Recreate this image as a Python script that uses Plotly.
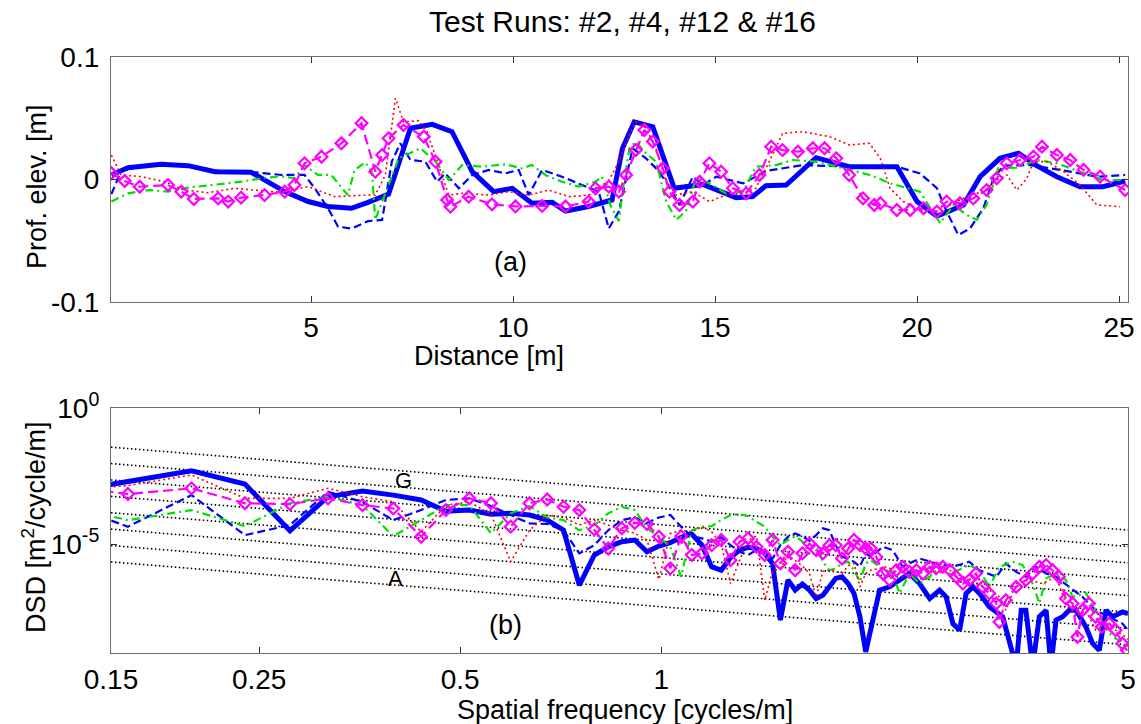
import numpy as np
import plotly.graph_objects as go

# ---------------- (a) profiles: distance [m] / elevation [m] ----------------
dist_ref = [0.06, 0.47, 1.29, 1.96, 2.62, 3.52, 4.35, 4.93, 5.42, 6.0, 6.41, 6.92, 7.46, 8.0, 8.49, 8.99,
            9.52, 9.98, 10.47, 10.97, 11.3, 11.87, 12.45, 12.71, 13.0, 13.46, 13.99, 14.7, 15.52, 15.93,
            16.26, 16.76, 17.5, 18.32, 18.98, 19.5, 20.0, 20.49, 21.15, 21.56, 22.05, 22.51, 22.96, 23.46,
            24.03, 24.6, 25.15]
elev_ref = [0.0037, 0.0096, 0.0124, 0.0113, 0.0064, 0.0059, -0.0099, -0.018, -0.022, -0.0235, -0.0186,
            -0.012, 0.0418, 0.045, 0.039, 0.0064, -0.0099, -0.0072, -0.0194, -0.0186, -0.0257, -0.022,
            -0.0167, 0.0255, 0.047, 0.043, -0.0072, -0.004, -0.0148, -0.014, -0.005, -0.0045, 0.0178,
            0.0105, 0.0105, 0.0105, -0.018, -0.030, -0.0208, 0.0023, 0.0173, 0.0214, 0.0113, 0.0023,
            -0.0059, -0.0059, -0.0012]

dist_r2 = [0.06, 0.3, 0.8, 1.3, 2.0, 2.6, 3.0, 3.61, 4.27, 4.84, 5.09, 5.42, 5.67, 6.0, 6.41, 6.76, 7.0,
           7.21, 7.46, 7.83, 8.12, 8.32, 8.66, 8.99, 9.4, 9.81, 10.14, 10.39, 10.72, 11.21, 11.71, 12.12,
           12.37, 12.62, 12.96, 13.29, 13.54, 13.79, 14.12, 14.45, 14.7, 15.03, 15.69, 16.26, 17.17,
           18.32, 19.5, 20.07, 20.49, 20.73, 21.02, 21.31, 21.64, 21.89, 22.14, 22.8, 23.79, 24.45, 25.15]
elev_r2 = [-0.012, 0.007, 0.011, 0.0125, 0.0115, 0.0075, 0.006, 0.0059, 0.0037, 0.0037, -0.007, -0.0235,
           -0.0385, -0.040, -0.034, -0.033, 0.0146, 0.0295, 0.016, 0.0146, -0.0018, 0.005, -0.0072,
           0.0037, 0.0078, 0.005, 0.0078, -0.0127, 0.0078, 0.0023, -0.0045, -0.0099, -0.040, -0.026,
           0.0255, 0.0173, 0.0091, -0.0018, -0.0208, 0.0023, -0.0045, 0.0023, -0.0032, 0.0069, 0.0118,
           0.0105, 0.0105, 0.005, -0.007, -0.026, -0.0453, -0.040, -0.0235, 0.001, 0.0113, 0.0118, 0.0064,
           0.0023, 0.0037]

dist_r4 = [0.06, 0.47, 0.97, 1.46, 1.96, 2.45, 2.86, 3.27, 3.77, 4.26, 4.59, 4.84, 5.17, 5.5, 5.91, 6.08,
           6.34, 6.51, 6.59, 6.88, 7.17, 7.71, 8.08, 8.41, 8.74, 9.23, 9.81, 10.22, 10.47, 10.8, 11.21,
           11.63, 12.04, 12.2, 12.41, 12.62, 12.71, 12.88, 13.04, 13.29, 13.54, 13.79, 14.04, 14.28,
           14.53, 14.86, 15.27, 15.69, 16.01, 16.51, 16.92, 17.5, 18.16, 18.84, 19.33, 20.07, 20.57,
           20.9, 21.23, 21.48, 21.72, 22.01, 22.47, 22.96, 23.46, 24.12, 24.6, 25.15]
elev_r4 = [-0.018, -0.0113, -0.0086, -0.0099, -0.0067, -0.005, -0.0031, -0.0018, 0.001, 0.0027, 0.001,
           0.0118, 0.0037, 0.0037, -0.0127, 0.0078, 0.014, 0.0064, -0.033, -0.007, 0.0173, 0.0255,
           0.0146, -0.0004, 0.0118, 0.0105, 0.0124, 0.0091, 0.0118, 0.0037, -0.0018, -0.0058, -0.0018,
           0.0023, -0.021, -0.034, -0.0099, 0.0255, 0.0309, 0.0214, 0.0146, -0.018, -0.033, -0.0255,
           0.001, -0.0031, -0.0113, -0.0099, 0.0105, 0.0118, 0.0159, 0.0146, 0.0091, 0.0037, -0.0031,
           -0.0099, -0.0358, -0.0208, -0.0289, -0.033, -0.0208, 0.0091, 0.0096, 0.0159, 0.0132, 0.005,
           -0.0004, -0.0004]

dist_r12 = [0.06, 0.3, 0.8, 1.38, 1.87, 2.45, 3.1, 3.69, 4.26, 4.93, 5.59, 6.41, 6.59, 6.84, 7.09, 7.29,
            7.66, 7.87, 8.16, 8.41, 8.74, 9.4, 9.89, 10.39, 10.88, 11.38, 11.87, 12.29, 12.62, 12.88,
            13.04, 13.29, 13.54, 13.79, 14.04, 14.45, 14.86, 15.27, 15.69, 16.01, 16.34, 16.67, 17.17,
            17.83, 18.32, 18.82, 19.09, 19.33, 19.66, 20.07, 20.49, 20.9, 21.31, 21.64, 21.97, 22.22,
            22.47, 22.72, 22.88, 23.22, 23.63, 24.03, 24.45, 25.02]
elev_r12 = [0.02, 0.0037, 0.0023, -0.0018, -0.0086, -0.0108, -0.0072, -0.0086, -0.0105, -0.0058, -0.014,
            -0.0127, -0.0127, 0.0037, 0.0663, 0.047, 0.048, 0.039, 0.0118, -0.0127, -0.0113, -0.0127,
            -0.0099, -0.0127, -0.0086, -0.014, -0.0127, -0.0058, 0.0146, 0.0364, 0.047, 0.0418, 0.0255,
            -0.0018, -0.0127, -0.0099, -0.018, -0.0127, -0.0113, -0.0072, 0.0146, 0.0377, 0.039, 0.035,
            0.0282, 0.0296, 0.0173, -0.0072, -0.018, -0.0249, -0.0262, -0.0194, -0.0127, -0.0099,
            -0.0004, 0.0037, -0.0086, 0.001, 0.0146, 0.0146, 0.0064, -0.0045, -0.0208, -0.0222]

dist_r16 = [0.06, 0.39, 0.76, 1.46, 1.79, 2.1, 2.7, 2.95, 3.27, 3.85, 4.35, 4.59, 4.84, 5.26, 5.75, 6.25,
            6.59, 6.76, 6.92, 7.29, 7.79, 8.08, 8.37, 8.45, 8.9, 9.48, 10.06, 10.72, 11.3, 11.87, 12.04,
            12.37, 12.62, 12.8, 13.04, 13.25, 13.46, 13.71, 13.87, 14.12, 14.45, 14.62, 14.86, 15.15,
            15.44, 15.77, 16.1, 16.39, 16.67, 17.05, 17.42, 17.71, 18.0, 18.32, 18.66, 18.94, 19.09,
            19.5, 19.83, 20.16, 20.49, 20.73, 21.06, 21.39, 21.72, 21.97, 22.22, 22.55, 22.88, 23.09,
            23.46, 23.79, 24.12, 24.53, 25.15]
elev_r16 = [0.0051, -0.0012, -0.0059, -0.0045, -0.0099, -0.0159, -0.0154, -0.018, -0.0148, -0.0127,
            -0.0099, -0.0045, 0.0132, 0.0186, 0.0295, 0.046, 0.0064, 0.02, 0.0336, 0.0445, 0.035, 0.0146,
            -0.0167, -0.0222, -0.014, -0.0203, -0.022, -0.0216, -0.022, -0.018, -0.0072, -0.0058,
            -0.0099, 0.0037, 0.0241, 0.0404, 0.031, 0.0091, -0.0099, -0.0208, -0.018, -0.0018, 0.0132,
            0.0064, -0.0072, -0.0113, 0.0037, 0.0268, 0.024, 0.0227, 0.0255, 0.0255, 0.0173, 0.0037,
            -0.0154, -0.0208, -0.0194, -0.0249, -0.0249, -0.0235, -0.0262, -0.018, -0.0194, -0.0154,
            -0.0086, 0.001, 0.0132, 0.0159, 0.0186, 0.0268, 0.02, 0.0159, 0.0078, 0.0023, -0.0086]

# ---------------- (b) displacement spectral density ----------------
# common low-frequency grid [cycles/m]
freq_lo = [0.119, 0.159, 0.198, 0.238, 0.278, 0.317, 0.357, 0.397, 0.437, 0.476, 0.516, 0.556, 0.595,
           0.635, 0.675, 0.714, 0.754, 0.794, 0.833, 0.873, 0.913, 0.952, 0.992, 1.032, 1.071, 1.111,
           1.151, 1.190, 1.230, 1.270, 1.310, 1.349, 1.389, 1.429, 1.468, 1.508, 1.548, 1.587, 1.627,
           1.667, 1.706, 1.746, 1.786, 1.825, 1.865, 1.905, 1.944, 1.984, 2.024]

# log10 of DSD [m^2/cycle/m]
lg_ref_lo = [-3.22, -2.68, -2.31, -2.79, -4.51, -3.26, -3.05, -3.20, -3.38, -3.79, -3.75, -3.90, -3.87,
             -3.93, -4.12, -4.49, -6.51, -5.40, -5.10, -4.91, -4.85, -5.28, -5.07, -4.95, -4.75, -4.63,
             -5.04, -5.83, -5.96, -5.49, -5.22, -5.12, -5.16, -5.34, -5.71, -7.79, -6.32, -6.69, -6.47,
             -6.69, -7.00, -6.88, -6.57, -6.26, -6.20, -6.45, -6.81, -7.67, -8.96]
freq_ref_hi = [2.075, 2.123, 2.198, 2.274, 2.353, 2.437, 2.524, 2.611, 2.671, 2.734, 2.798, 2.861, 2.929,
               2.996, 3.099, 3.246, 3.40, 3.46, 3.516, 3.599, 3.683, 3.77, 3.833, 3.901, 3.992, 4.083,
               4.179, 4.325, 4.425, 4.528, 4.635, 4.742, 4.905, 5.0]
lg_ref_hi = [-7.67, -6.69, -6.57, -6.32, -6.08, -6.45, -7.00, -6.69, -6.94, -7.92, -8.16, -6.81, -6.57,
             -6.81, -7.30, -7.67, -9.5, -7.43, -7.43, -9.5, -7.67, -7.43, -9.5, -7.79, -7.67, -7.43, -7.43,
             -8.04, -8.65, -8.90, -7.43, -7.67, -7.49, -7.55]

lg_r2_lo = [-3.22, -4.36, -3.20, -4.67, -4.30, -3.08, -3.45, -4.12, -3.75, -3.38, -3.32, -3.60, -3.93,
            -4.24, -4.26, -4.49, -5.34, -5.04, -4.49, -4.12, -4.02, -4.22, -4.02, -3.93, -4.36, -4.71,
            -4.79, -4.91, -4.75, -5.04, -5.28, -5.40, -5.22, -5.34, -5.53, -5.04, -4.73, -4.61, -4.71,
            -4.88, -4.67, -4.42, -4.49, -5.04, -5.47, -5.53, -5.65, -5.83, -5.34]
freq_r2_hi = [2.06, 2.147, 2.222, 2.298, 2.437, 2.58, 2.734, 2.893, 2.996, 3.175, 3.282, 3.4, 3.516, 3.639,
              3.77, 3.901, 4.083, 4.274, 4.472, 4.687, 4.905, 5.0]
lg_r2_hi = [-5.47, -5.10, -5.22, -5.83, -5.53, -5.71, -5.83, -5.65, -5.96, -6.20, -5.71, -6.02, -6.20,
            -5.83, -6.08, -6.20, -6.57, -6.94, -7.43, -7.67, -7.92, -8.16]

lg_r4_lo = [-3.42, -4.12, -3.75, -4.34, -3.50, -3.26, -3.57, -4.71, -4.12, -3.57, -3.57, -4.60, -3.87,
            -3.60, -4.02, -4.12, -4.49, -4.30, -3.87, -3.63, -3.75, -4.42, -4.73, -5.10, -6.20, -4.49,
            -4.36, -4.34, -4.12, -3.93, -3.90, -3.97, -4.18, -4.36, -4.73, -5.04, -4.85, -4.71, -4.91,
            -5.22, -4.98, -5.65, -5.96, -5.89, -5.71, -5.65, -5.96, -6.38, -5.71]
freq_r4_hi = [2.06, 2.123, 2.222, 2.274, 2.353, 2.437, 2.524, 2.611, 2.706, 2.798, 2.893, 2.996, 3.099,
              3.21, 3.361, 3.476, 3.599, 3.683, 3.77, 3.901, 4.037, 4.13, 4.325, 4.528, 4.687, 4.905, 5.0]
lg_r4_hi = [-5.59, -5.83, -6.08, -6.81, -6.08, -6.45, -6.20, -5.83, -6.08, -5.93, -5.77, -5.96, -6.57,
            -5.83, -5.65, -5.77, -6.45, -7.18, -6.26, -6.08, -6.32, -6.94, -6.81, -7.67, -8.28, -8.65, -8.90]

lg_r12_lo = [-3.09, -2.85, -2.46, -3.32, -3.32, -2.95, -3.26, -3.45, -4.55, -3.57, -3.45, -3.90, -5.65,
             -4.49, -3.93, -4.02, -4.30, -4.12, -4.30, -4.49, -4.60, -4.85, -6.30, -4.61, -4.49, -4.55,
             -4.36, -4.55, -5.00, -6.45, -5.60, -4.85, -4.70, -7.06, -6.00, -5.90, -5.40, -5.59, -5.80,
             -6.08, -6.94, -6.00, -5.96, -6.00, -6.08, -5.80, -5.71, -6.57, -6.08]
freq_r12_hi = [2.06, 2.18, 2.298, 2.437, 2.58, 2.706, 2.83, 2.96, 3.099, 3.21, 3.282, 3.4, 3.56, 3.72,
               3.901, 4.037, 4.18, 4.325, 4.472, 4.635, 4.8, 4.96, 5.0]
lg_r12_hi = [-5.96, -5.83, -6.20, -5.96, -6.08, -5.96, -6.20, -6.45, -6.69, -6.94, -7.43, -6.45, -6.32,
             -6.45, -6.20, -7.18, -7.67, -7.43, -8.16, -7.92, -8.16, -8.41, -8.50]

lg_r16_lo = [-2.76, -3.16, -2.95, -3.50, -3.53, -3.32, -3.57, -3.69, -4.73, -3.75, -3.32, -3.50, -4.36,
             -3.50, -3.36, -3.63, -3.75, -4.46, -5.16, -4.42, -4.22, -4.26, -4.73, -5.89, -4.71, -5.40,
             -5.34, -5.04, -4.85, -5.59, -4.91, -4.79, -5.10, -5.40, -4.85, -5.71, -5.28, -5.96, -5.34,
             -4.98, -5.22, -5.34, -5.04, -5.04, -5.53, -5.16, -4.85, -5.04, -5.16]
freq_r16_hi = [2.06, 2.1, 2.147, 2.198, 2.248, 2.298, 2.353, 2.41, 2.466, 2.524, 2.58, 2.64, 2.706, 2.766,
               2.83, 2.893, 2.96, 3.03, 3.099, 3.175, 3.21, 3.282, 3.4, 3.516, 3.599, 3.683, 3.77, 3.855,
               3.94, 4.037, 4.13, 4.2, 4.274, 4.37, 4.472, 4.57, 4.687, 4.79, 4.905, 4.98]
lg_r16_hi = [-5.16, -5.47, -6.08, -6.32, -5.96, -5.83, -6.02, -5.96, -6.08, -5.83, -5.89, -5.83, -5.96,
             -6.20, -6.45, -6.32, -6.08, -6.57, -6.81, -7.18, -7.86, -7.06, -6.57, -6.32, -6.08, -5.83,
             -5.77, -5.96, -6.20, -7.00, -7.18, -8.41, -7.43, -7.18, -7.67, -8.04, -7.92, -8.16, -8.65,
             -8.90]

# road class boundary levels at n0 = 0.1 cycles/m (waviness 2)
n0 = 0.1
class_levels = [5.0e-6, 2.0e-5, 8.0e-5, 3.2e-4, 1.28e-3, 5.12e-3, 2.048e-2, 8.192e-2]
class_freq = [0.15, 5.0]
class_labels = ["A", "G"]
class_label_pos = [(0.40, 5.6e-7), (0.411, 2.25e-3)]

# ---------------- styles ----------------
FONT = "Liberation Sans, Arial, Helvetica, sans-serif"
BLUE, GREEN, RED, MAG = "#0000FF", "#00E000", "#FF0000", "#FF00FF"
styles = [
    dict(color=BLUE, width=5, dash="solid"),
    dict(color=BLUE, width=2.2, dash="8px,4px"),
    dict(color=GREEN, width=2.2, dash="8px,4px,2px,4px"),
    dict(color=RED, width=1.6, dash="2px,3px"),
    dict(color=MAG, width=2.2, dash="10px,5px"),
]
names = ["Reference", "Run #2", "Run #4", "Run #12", "Run #16"]
MARK = dict(symbol="diamond-open", size=9, color=MAG, line=dict(width=2.2, color=MAG))

fig = go.Figure()

# (a) profiles
prof_x = [dist_ref, dist_r2, dist_r4, dist_r12, dist_r16]
prof_y = [elev_ref, elev_r2, elev_r4, elev_r12, elev_r16]
for i in range(5):
    fig.add_trace(go.Scatter(x=prof_x[i], y=prof_y[i], mode="lines+markers" if i == 4 else "lines",
                             line=styles[i], marker=MARK if i == 4 else None, name=names[i],
                             showlegend=False, xaxis="x", yaxis="y"))

# class lines (b)
for lv in class_levels:
    fig.add_trace(go.Scatter(x=class_freq, y=[lv * (f / n0) ** -2 for f in class_freq], mode="lines",
                             line=dict(color="#000000", width=1.6, dash="1.5px,2.5px"),
                             showlegend=False, hoverinfo="skip", xaxis="x2", yaxis="y2"))

# (b) spectra
spec_f = [freq_lo + freq_ref_hi, freq_lo + freq_r2_hi, freq_lo + freq_r4_hi, freq_lo + freq_r12_hi,
          freq_lo + freq_r16_hi]
spec_lg = [lg_ref_lo + lg_ref_hi, lg_r2_lo + lg_r2_hi, lg_r4_lo + lg_r4_hi, lg_r12_lo + lg_r12_hi,
           lg_r16_lo + lg_r16_hi]
for i in range(5):
    fig.add_trace(go.Scatter(x=spec_f[i], y=np.power(10.0, spec_lg[i]),
                             mode="lines+markers" if i == 4 else "lines",
                             line=styles[i], marker=MARK if i == 4 else None, name=names[i],
                             showlegend=False, xaxis="x2", yaxis="y2"))

W, H = 1141, 724
xdom = [111 / W, 1128 / W]
axis_common = dict(showgrid=False, zeroline=False, showline=True, linecolor="#6e6e6e", linewidth=1.2,
                   mirror="ticks", ticks="inside", ticklen=6, tickcolor="#333333", tickwidth=1,
                   automargin=False,
                   tickfont=dict(family=FONT, size=28, color="#000000"))

fig.update_layout(
    width=W, height=H, autosize=False, margin=dict(l=0, r=0, t=0, b=0, pad=0, autoexpand=False),
    paper_bgcolor="white", plot_bgcolor="white", showlegend=False,
    font=dict(family=FONT, color="#000000"),
    xaxis=dict(axis_common, domain=xdom, anchor="y", range=[0.05, 25.22],
               tickvals=[5, 10, 15, 20, 25], ticklabelstandoff=0),
    yaxis=dict(axis_common, domain=[1 - 302 / H, 1 - 57 / H], anchor="x", range=[-0.1, 0.1],
               tickvals=[-0.1, 0, 0.1], ticktext=["-0.1", "0", "0.1"], ticklabelstandoff=5),
    xaxis2=dict(axis_common, domain=xdom, anchor="y2", type="log",
                range=[np.log10(0.15), np.log10(5)],
                tickvals=[0.15, 0.25, 0.5, 1, 5], ticktext=["0.15", "0.25", "0.5", "1", "5"],
                ticklabelstandoff=1),
    yaxis2=dict(axis_common, domain=[1 - 653 / H, 1 - 408 / H], anchor="x2", type="log", range=[-9, 0],
                tickvals=[1e-5, 1], ticktext=["10<sup>-5</sup>", "10<sup>0</sup>"], ticklabelstandoff=5),
)

ann = []
def add_text(x, y, text, size, angle=0, xref="paper", yref="paper"):
    ann.append(dict(x=x, y=y, xref=xref, yref=yref, text=text, showarrow=False, textangle=angle,
                    font=dict(family=FONT, size=size, color="#000000"), xanchor="center", yanchor="middle"))

add_text(622 / W, 1 - 22 / H, "Test Runs: #2, #4, #12 &amp; #16", 30)
add_text(37 / W, 1 - 187 / H, "Prof. elev. [m]", 27, -90)
add_text(489 / W, 1 - 356 / H, "Distance [m]", 27)
add_text(34 / W, 1 - 527 / H, "DSD [m<sup>2</sup>/cycle/m]", 27, -90)
add_text(625 / W, 1 - 710 / H, "Spatial frequency [cycles/m]", 27)
add_text(9.93, -0.067, "(a)", 27, xref="x", yref="y")
add_text(np.log10(0.585), np.log10(1.05e-8), "(b)", 27, xref="x2", yref="y2")
for lab, (fx, fy) in zip(class_labels, class_label_pos):
    add_text(np.log10(fx), np.log10(fy), lab, 22, xref="x2", yref="y2")
fig.update_layout(annotations=ann)

fig.write_html("out.html", config={"displayModeBar": False},
               post_script="document.body.style.margin='0px';document.body.style.overflow='hidden';")
